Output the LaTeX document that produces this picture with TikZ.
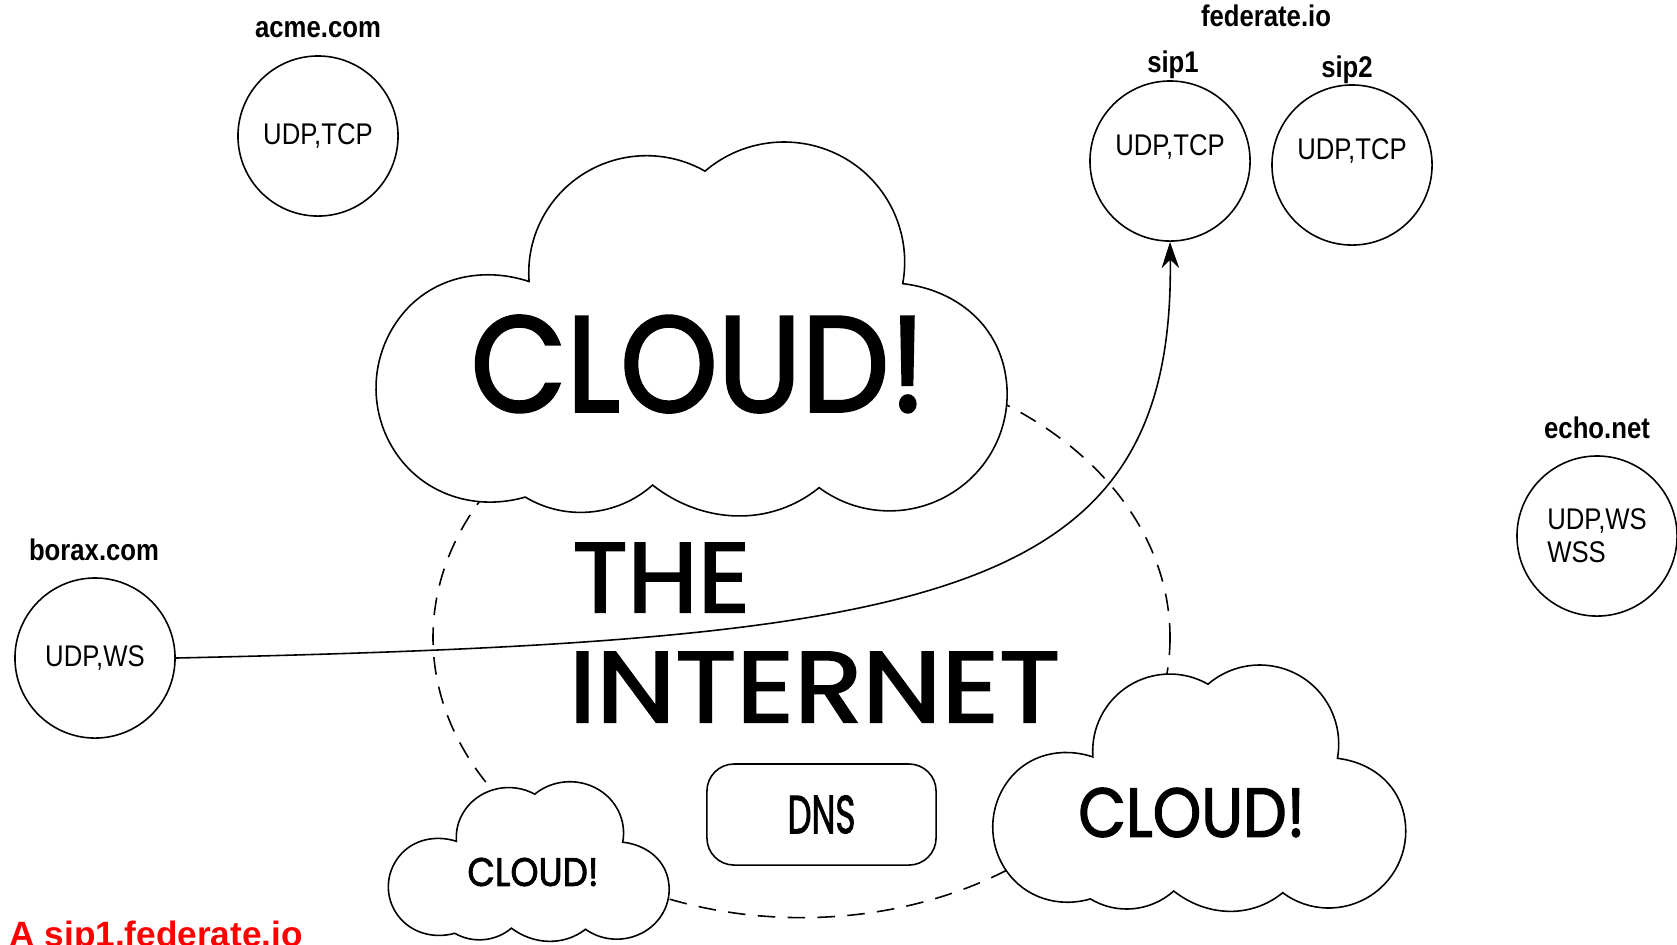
\documentclass[tikz,border=0pt]{standalone}
\usepackage{fontspec}
\usepackage{graphicx}
\setmainfont{Liberation Sans}
\newfontfamily\labelfont[FakeStretch=0.86]{Liberation Sans}
\newfontfamily\comicfont[FakeBold=2]{Poppins}
\usetikzlibrary{arrows.meta,positioning}

\begin{document}
\begin{tikzpicture}[x=0.01cm, y=-0.01cm,
	host/.style = {draw, circle, minimum size=1.6cm, inner sep=0pt, line width=0.45pt, font=\labelfont\fontsize{8.5}{9.4}\selectfont},
	lifted/.style = {text height=6pt, text depth=9pt},
	hostname/.style = {anchor=base, inner sep=0pt, font=\labelfont\bfseries\fontsize{8.5}{10}\selectfont},
	comic/.style = {inner sep=0pt, font=\comicfont},
	dnsbox/.style = {draw, fill=white, rounded corners=7.7pt, minimum width=2.29cm, minimum height=1.01cm, line width=0.45pt},
	link/.style = {line width=0.45pt, -{Stealth[length=7.5pt, width=5pt]}},
	cloud/.pic = {
		\draw[line width=0.45pt, fill=white] (100.2,91.9) .. controls (98.0,63.5) and (111.8,36.1) .. (135.9,20.9)
			.. controls (160.0,5.7) and (190.6,5.0) .. (215.3,19.2)
			.. controls (240.7,-2.7) and (277.2,-6.2) .. (306.3,10.4)
			.. controls (335.4,27.0) and (350.7,60.4) .. (344.7,93.3)
			.. controls (376.9,97.1) and (403.6,116.9) .. (411.0,148.4)
			.. controls (418.4,180.0) and (405.3,212.7) .. (378.2,230.4)
			.. controls (351.1,248.1) and (316.0,247.1) .. (290.0,227.7)
			.. controls (257.9,253.9) and (213.6,251.7) .. (181.0,226.0)
			.. controls (158.0,246.6) and (124.1,249.9) .. (97.7,233.9)
			.. controls (65.9,243.1) and (32.4,232.9) .. (13.6,205.7)
			.. controls (-5.2,178.5) and (-4.4,142.3) .. (15.4,115.8)
			.. controls (35.2,89.3) and (68.8,81.5) .. (100.2,91.9) -- cycle;
	}]
	\useasboundingbox (0,0) rectangle (1677,944);

	% the internet
	\draw[line width=0.45pt, dash pattern=on 5pt off 3.5pt] (801.5,637.6) ellipse [x radius=368.5, y radius=280];
	\pic at (376,142) [xscale=1.528, yscale=1.518] {cloud};
	\pic at (992.7,665) {cloud};
	\pic at (388.3,781.7) [xscale=0.680, yscale=0.648] {cloud};
	\node[comic] (bigcloud) at (698.5,364) {\resizebox{129.5pt}{27.3pt}{CLOUD!}};
	\node[comic] (rightcloud) at (1191.7,812.5) {\resizebox{64.5pt}{13.9pt}{CLOUD!}};
	\node[comic] (smallcloud) at (533,872) {\resizebox{37.3pt}{8pt}{CLOUD!}};
	\node[comic, anchor=base west] (the) at (572,612) {\resizebox{50.4pt}{19.6pt}{THE}};
	\node[comic, anchor=base west] (internet) at (568,722) {\resizebox{139.7pt}{19.9pt}{INTERNET}};
	\node[dnsbox] (dns) at (821.5,814.5) {\resizebox{19.3pt}{10.8pt}{\comicfont DNS}};

	% hosts
	\node[host] (acme) at (318,136) {UDP,TCP};
	\node[hostname] (acmename) at (318,37.5) {acme.com};
	\node[host, lifted] (sip1) at (1170,161) {UDP,TCP};
	\node[hostname] (sip1name) at (1173,72.5) {sip1};
	\node[host, lifted] (sip2) at (1352,165) {UDP,TCP};
	\node[hostname] (sip2name) at (1347,77.3) {sip2};
	\node[hostname] (federate) at (1266,26.5) {federate.io};
	\node[host] (borax) at (95,658) {UDP,WS};
	\node[hostname] (boraxname) at (94,560) {borax.com};
	\node[host, align=left] (echo) at (1597,536) {UDP,WS\\WSS};
	\node[hostname] (echoname) at (1597,438) {echo.net};

	\draw[link] (borax.east) .. controls (936,641) and (1175,601) .. (sip1.south);

	\node[anchor=base west, inner sep=0pt, text=red, font=\bfseries\fontsize{10}{12}\selectfont] (query) at (9,946) {A sip1.federate.io};
\end{tikzpicture}
\end{document}
